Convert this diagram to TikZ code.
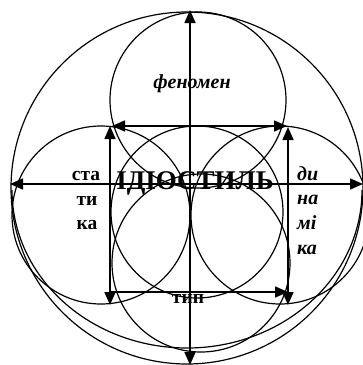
\documentclass[tikz,border=0pt]{standalone}
\usepackage{fontspec}
\setmainfont{Liberation Serif}
\usetikzlibrary{arrows.meta}
\begin{document}
\begin{tikzpicture}[x=1pt,y=-1pt,
  circ/.style={line width=1.2pt},
  axis/.style={line width=1.6pt},
  both/.style={{Triangle[length=13pt,width=11pt]}-{Triangle[length=13pt,width=11pt]}},
  one/.style={-{Triangle[length=13pt,width=11pt]}},
  lbl/.style={font=\fontsize{19.5}{19.5}\selectfont\bfseries, inner sep=0pt, anchor=base},
  ilbl/.style={lbl, font=\fontsize{20}{20}\selectfont\bfseries\itshape},
  biglbl/.style={lbl, font=\fontsize{27}{27}\selectfont\bfseries}]
\useasboundingbox (0,0) rectangle (363,365);
% circles
\draw[circ] (187,188) circle[radius=176];
\draw[circ] (12,190) arc[start angle=180,end angle=0,x radius=175,y radius=158];
\draw[circ] (198,100) circle[radius=88];
\draw[circ] (101,215) circle[radius=89];
\draw[circ] (280,215) circle[radius=89];
\draw[circ] (197,212) circle[radius=86];
\draw[circ] (201,263) circle[radius=89];
% labels
\node[ilbl] (fen) at (192,88) {феномен};
\node[biglbl] (idio) at (195,189) {ІДІОСТИЛЬ};
\node[lbl] (s1) at (86,180) {ста};
\node[lbl] (s2) at (87,205) {ти};
\node[lbl] (s3) at (87,229) {ка};
\node[ilbl,anchor=base west] (d1) at (297,180) {ди};
\node[ilbl,anchor=base west] (d2) at (297,204) {на};
\node[ilbl,anchor=base west] (d3) at (297,229) {мі};
\node[ilbl,anchor=base west] (d4) at (297,254) {ка};
\node[lbl] (tip) at (188,303) {тип};
% arrow ends
\coordinate (vt) at (190,10);
\coordinate (vb) at (190,365);
\coordinate (hl) at (10,184);
\coordinate (hr) at (363,184);
\coordinate (tl) at (112,126);
\coordinate (tr) at (287,126);
\coordinate (lt) at (110,126);
\coordinate (lb) at (110,305);
\coordinate (rt) at (288,127);
\coordinate (rb) at (288,305);
\coordinate (bl) at (110,292);
\coordinate (br) at (288,292);
\draw[axis,both] (vb) -- (vt);
\draw[axis,both] (hl) -- (hr);
\draw[axis,both] (tl) -- (tr);
\draw[axis,both] (lb) -- (lt);
\draw[axis,both] (rb) -- (rt);
\draw[axis,one] (bl) -- (br);
\end{tikzpicture}
\end{document}
